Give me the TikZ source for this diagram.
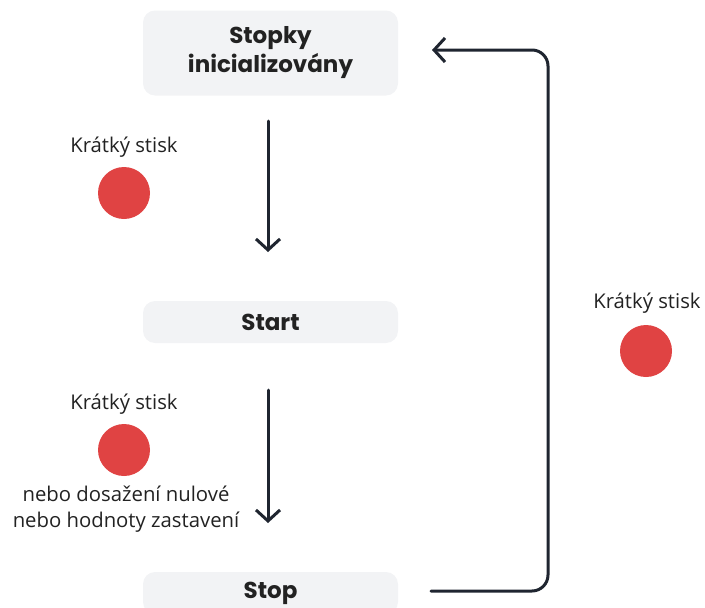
\documentclass[tikz,border=0pt]{standalone}
\usepackage{fontspec}
\setmainfont{Open Sans}
\newfontfamily\boxfont{Poppins}[BoldFont={* Bold}]
\usetikzlibrary{arrows.meta}
\definecolor{boxfill}{HTML}{F2F3F5}
\definecolor{linecol}{HTML}{1F2530}
\definecolor{dotred}{HTML}{E04343}
\definecolor{txt}{HTML}{222222}
\tikzset{
  statebox/.style={fill=boxfill, rounded corners=12pt, minimum width=255pt, text=txt, align=center, font=\boxfont\bfseries\fontsize{23}{29}\selectfont, inner sep=0pt},
  lbl/.style={text=txt, font=\fontsize{20.3}{26}\selectfont, align=center, inner sep=0pt},
  dot/.style={circle, fill=dotred, minimum size=52pt, inner sep=0pt},
  flow/.style={draw=linecol, line width=3pt, -{Straight Barb[length=11pt,width=24pt,line width=3pt]}, line cap=round}
}
\begin{document}
\begin{tikzpicture}[x=1pt,y=-1pt]
\useasboundingbox (0,0) rectangle (705,608);
\node[statebox, minimum height=85pt] (init) at (270.5,53) {Stopky\\inicializovány};
\node[statebox, minimum height=42pt] (start) at (270.5,322) {Start};
\node[statebox, minimum height=42pt] (stop) at (270.5,593) {Stop};
\coordinate (a1s) at (268,121);
\coordinate (a1e) at (268,252);
\coordinate (a2s) at (268,390);
\coordinate (a2e) at (268,523);
\draw[flow] (a1s) -- (a1e);
\draw[flow] (a2s) -- (a2e);
\coordinate (rs) at (431,591);
\coordinate (rc1) at (548,591);
\coordinate (rc2) at (548,50);
\coordinate (re) at (432,50);
\draw[flow, rounded corners=16pt] (rs) -- (rc1) -- (rc2) -- (re);
\node[lbl] (l1) at (124,147) {Krátký stisk};
\node[dot] (d1) at (124,193) {};
\node[lbl] (l2) at (124,404) {Krátký stisk};
\node[dot] (d2) at (124,450) {};
\node[lbl] (l3) at (126,509) {nebo dosažení nulové\\nebo hodnoty zastavení};
\node[lbl] (l4) at (647,303) {Krátký stisk};
\node[dot] (d3) at (646,351) {};
\end{tikzpicture}
\end{document}
